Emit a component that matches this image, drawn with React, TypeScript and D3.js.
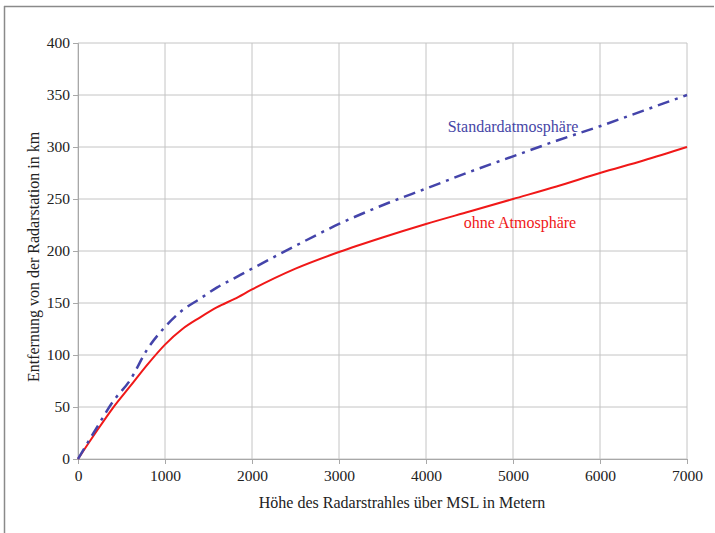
import React, { useEffect, useRef } from 'react';
import * as d3 from 'd3';

const svgWidth = 715;
const svgHeight = 533;
const margin = { top: 43, right: 28, bottom: 74, left: 78 };
const chartWidth = svgWidth - margin.left - margin.right;
const chartHeight = svgHeight - margin.top - margin.bottom;

const heights = [0, 200, 400, 600, 800, 1000, 1200, 1400, 1600, 1800, 2000, 2500, 3000, 3500, 4000, 4500, 5000, 5500, 6000, 6500, 7000];
const ohneAtmosphaere = [0, 25, 49, 70, 91, 110, 125, 136, 146, 154, 163, 183, 199, 213, 226, 238, 250, 262, 275, 287, 300];
const standardAtmosphaere = [0, 28, 55, 76, 106, 127, 143, 154, 165, 174, 183, 205, 226, 244, 260, 276, 291, 306, 320, 335, 350];
const xTicks = [0, 1000, 2000, 3000, 4000, 5000, 6000, 7000];
const yTicks = [0, 50, 100, 150, 200, 250, 300, 350, 400];

const App = () => {
  const chartRef = useRef<SVGSVGElement>(null);

  useEffect(() => {
    if (!chartRef.current) return;
    const svg = d3.select(chartRef.current);
    svg.selectAll('*').remove();

    // outer frame (top and left edges only visible)
    svg.append('line').attr('x1', 4).attr('x2', 714).attr('y1', 6.5).attr('y2', 6.5)
      .attr('stroke', '#8a8a8a').attr('stroke-width', 1.5);
    svg.append('line').attr('x1', 4.5).attr('x2', 4.5).attr('y1', 6).attr('y2', svgHeight)
      .attr('stroke', '#8a8a8a').attr('stroke-width', 1.5);

    const chart = svg.append('g').attr('transform', `translate(${margin.left}, ${margin.top})`);

    const xScale = d3.scaleLinear().domain([0, 7000]).range([0, chartWidth]);
    const yScale = d3.scaleLinear().domain([0, 400]).range([chartHeight, 0]);

    // grid
    chart.append('g').selectAll('line').data(xTicks).enter().append('line')
      .attr('x1', d => xScale(d)).attr('x2', d => xScale(d))
      .attr('y1', 0).attr('y2', chartHeight)
      .attr('stroke', '#c4c4c4').attr('stroke-width', 1);
    chart.append('g').selectAll('line').data(yTicks).enter().append('line')
      .attr('x1', 0).attr('x2', chartWidth)
      .attr('y1', d => yScale(d)).attr('y2', d => yScale(d))
      .attr('stroke', '#c4c4c4').attr('stroke-width', 1);

    const xAxis = chart.append('g')
      .attr('transform', `translate(0, ${chartHeight})`)
      .call(d3.axisBottom(xScale).tickValues(xTicks).tickFormat(d3.format('d')).tickSize(5).tickPadding(6));
    const yAxis = chart.append('g')
      .call(d3.axisLeft(yScale).tickValues(yTicks).tickFormat(d3.format('d')).tickSize(5).tickPadding(3));

    const serif = '"Liberation Serif", "Times New Roman", serif';

    [xAxis, yAxis].forEach(ax => {
      ax.select('.domain').attr('stroke', '#a8a8a8');
      ax.selectAll('.tick line').attr('stroke', '#a8a8a8');
      ax.selectAll('.tick text')
        .attr('fill', '#222')
        .style('font-family', serif)
        .style('font-size', '15.5px');
    });

    const line = d3.line<number>()
      .x((_, i) => xScale(heights[i]))
      .y(d => yScale(d))
      .curve(d3.curveMonotoneX);

    chart.append('path').datum(ohneAtmosphaere)
      .attr('d', line)
      .attr('fill', 'none')
      .attr('stroke', '#f01818')
      .attr('stroke-width', 2);

    chart.append('path').datum(standardAtmosphaere)
      .attr('d', line)
      .attr('fill', 'none')
      .attr('stroke', '#4444aa')
      .attr('stroke-width', 2.5)
      .attr('stroke-dasharray', '12,6,3,6');

    svg.append('text').attr('x', 513).attr('y', 132).attr('text-anchor', 'middle')
      .attr('fill', '#4646a6').style('font-family', serif).style('font-size', '16px')
      .text('Standardatmosphäre');
    svg.append('text').attr('x', 520).attr('y', 228).attr('text-anchor', 'middle')
      .attr('fill', '#f01818').style('font-family', serif).style('font-size', '16px')
      .text('ohne Atmosphäre');

    svg.append('text').attr('x', 402).attr('y', 508).attr('text-anchor', 'middle')
      .attr('fill', '#222').style('font-family', serif).style('font-size', '16px')
      .text('Höhe des Radarstrahles über MSL in Metern');
    svg.append('text')
      .attr('transform', `translate(39, 257) rotate(-90)`)
      .attr('text-anchor', 'middle')
      .attr('fill', '#222').style('font-family', serif).style('font-size', '16px')
      .text('Entfernung von der Radarstation in km');
  }, []);

  return (
    <svg
      ref={chartRef}
      width={svgWidth}
      height={svgHeight}
      style={{ position: 'absolute', left: 0, top: 0, background: '#fff' }}
    />
  );
};

export default App;
